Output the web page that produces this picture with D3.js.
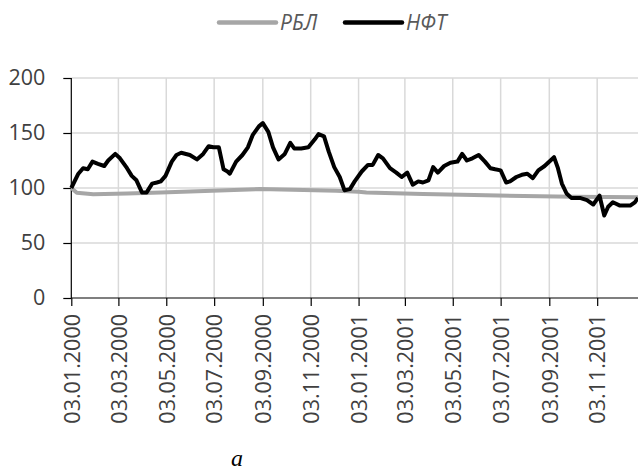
<!DOCTYPE html>
<html>
<head>
<meta charset="utf-8">
<script src="https://cdnjs.cloudflare.com/ajax/libs/d3/7.8.5/d3.min.js"></script>
<style>
	body { margin: 0; background: #fff; }
	svg { display: block; }
</style>
</head>
<body>
<svg id="chart"></svg>
<script>
// DATA

var seriesNames = ["РБЛ", "НФТ"];

var nftDates = [
	"2000-01-03", "2000-01-12", "2000-01-18", "2000-01-24", "2000-01-30", "2000-02-06",
	"2000-02-14", "2000-02-19", "2000-02-28", "2000-03-05", "2000-03-14", "2000-03-20",
	"2000-03-26", "2000-04-02", "2000-04-08", "2000-04-15", "2000-04-21", "2000-04-26",
	"2000-05-02", "2000-05-10", "2000-05-16", "2000-05-22", "2000-06-02", "2000-06-11",
	"2000-06-19", "2000-06-26", "2000-07-02", "2000-07-09", "2000-07-15", "2000-07-20",
	"2000-07-23", "2000-07-31", "2000-08-08", "2000-08-15", "2000-08-21", "2000-08-29",
	"2000-09-03", "2000-09-10", "2000-09-16", "2000-09-23", "2000-10-01", "2000-10-08",
	"2000-10-13", "2000-10-22", "2000-10-31", "2000-11-08", "2000-11-13", "2000-11-20",
	"2000-11-26", "2000-12-03", "2000-12-10", "2000-12-16", "2000-12-23", "2000-12-29",
	"2001-01-07", "2001-01-15", "2001-01-21", "2001-01-28", "2001-02-03", "2001-02-12",
	"2001-02-20", "2001-02-27", "2001-03-06", "2001-03-13", "2001-03-20", "2001-03-26",
	"2001-04-02", "2001-04-08", "2001-04-14", "2001-04-22", "2001-04-30", "2001-05-09",
	"2001-05-15", "2001-05-21", "2001-05-28", "2001-06-05", "2001-06-13", "2001-06-20",
	"2001-06-26", "2001-07-03", "2001-07-10", "2001-07-15", "2001-07-23", "2001-07-30",
	"2001-08-06", "2001-08-13", "2001-08-20", "2001-08-28", "2001-09-09", "2001-09-14",
	"2001-09-19", "2001-09-25", "2001-10-01", "2001-10-12", "2001-10-21", "2001-10-29",
	"2001-11-06", "2001-11-12", "2001-11-17", "2001-11-23", "2001-12-02", "2001-12-15",
	"2001-12-21", "2001-12-25"
];

var nftValues = [
	100, 113, 118, 117, 124, 122,
	120, 125, 131, 127, 118, 111,
	107, 96, 96, 104, 105, 106,
	111, 124, 130, 132, 130, 126,
	131, 138, 137, 137, 117, 115,
	113, 124, 130, 137, 148, 156,
	159, 151, 137, 126, 131, 141,
	136, 136, 137, 144, 149, 147,
	133, 119, 110, 98, 99, 106,
	115, 121, 121, 130, 127, 118,
	114, 110, 114, 103, 106, 105,
	107, 119, 114, 120, 123, 124,
	131, 125, 127, 130, 124, 118,
	117, 116, 105, 106, 110, 112,
	113, 109, 116, 120, 128, 118,
	104, 95, 91, 91, 89, 85,
	93, 75, 83, 87, 84, 84,
	87, 91
];

var rblDates = [
	"2000-01-03", "2000-01-10", "2000-01-31", "2000-03-14", "2000-04-26", "2000-07-19",
	"2000-08-30", "2000-12-06", "2001-01-03", "2001-01-13", "2001-03-26", "2001-05-30",
	"2001-08-01", "2001-10-03", "2001-12-25"
];

var rblValues = [
	100, 95.7, 94.3, 95, 96, 98,
	99, 97.5, 96.5, 96, 94.5, 93.6,
	92.7, 92, 91.5
];

var xTicks = [
	"2000-01-03", "2000-03-03", "2000-05-03", "2000-07-03", "2000-09-03", "2000-11-03",
	"2001-01-03", "2001-03-03", "2001-05-03", "2001-07-03", "2001-09-03", "2001-11-03"
];

var yTicks = [0, 50, 100, 150, 200];

// DIMENSIONS

var width = 638,
	height = 471,
	plotLeft = 71.3,
	plotRight = 638,
	plotTop = 78,
	plotBottom = 298;

var parse = d3.timeParse("%Y-%m-%d");

// SCALES

var xScale = d3.scaleTime()
	.domain([parse("2000-01-03"), parse("2001-12-25")])
	.range([plotLeft, plotRight]);

var yScale = d3.scaleLinear()
	.domain([0, 200])
	.range([plotBottom, plotTop]);

var svg = d3.select("#chart")
	.attr('width', width)
	.attr('height', height);

// grid

svg.append('g').selectAll('line').data(yTicks.slice(1))
	.enter().append('line')
	.attr('x1', plotLeft).attr('x2', plotRight)
	.attr('y1', function(d) { return yScale(d); })
	.attr('y2', function(d) { return yScale(d); })
	.style('stroke', '#d9d9d9')
	.style('stroke-width', 1.5);

svg.append('g').selectAll('line').data(xTicks.slice(1))
	.enter().append('line')
	.attr('x1', function(d) { return xScale(parse(d)); })
	.attr('x2', function(d) { return xScale(parse(d)); })
	.attr('y1', plotTop).attr('y2', plotBottom)
	.style('stroke', '#d9d9d9')
	.style('stroke-width', 1.5);

// axes

var yAxis = d3.axisLeft(yScale)
	.tickValues(yTicks)
	.tickSize(8)
	.tickPadding(18);

var yGuide = svg.append('g')
	.attr('transform', 'translate(' + plotLeft + ',0)')
	.call(yAxis);

var xAxis = d3.axisBottom(xScale)
	.tickValues(xTicks.map(parse))
	.tickSize(8)
	.tickFormat(d3.timeFormat("%d.%m.%Y"));

var xGuide = svg.append('g')
	.attr('transform', 'translate(0,' + plotBottom + ')')
	.call(xAxis);

xGuide.selectAll('text')
	.attr('transform', 'rotate(-90)')
	.attr('x', -16)
	.attr('y', 0)
	.attr('dy', '0.36em')
	.style('text-anchor', 'end');

xGuide.select('.domain').attr('d', 'M' + plotLeft + ',0H' + plotRight);
yGuide.select('.domain').attr('d', 'M0,' + plotTop + 'V' + plotBottom);

svg.selectAll('.tick text')
	.style('font-family', '"Open Sans", sans-serif')
	.style('font-size', '21.5px')
	.style('fill', '#404040');

svg.selectAll('.domain, .tick line')
	.style('stroke', '#000')
	.style('stroke-width', 1.2);

// lines

var line = d3.line()
	.x(function(d) { return xScale(parse(d[0])); })
	.y(function(d) { return yScale(d[1]); });

svg.append('path')
	.datum(d3.zip(rblDates, rblValues))
	.attr('d', line)
	.style('fill', 'none')
	.style('stroke', '#a6a6a6')
	.style('stroke-width', 4)
	.style('stroke-linejoin', 'round');

svg.append('path')
	.datum(d3.zip(nftDates, nftValues))
	.attr('d', line)
	.style('fill', 'none')
	.style('stroke', '#000')
	.style('stroke-width', 4)
	.style('stroke-linejoin', 'round');

// legend

var legend = svg.append('g').selectAll('g').data(seriesNames)
	.enter().append('g')
	.attr('transform', function(d, i) { return 'translate(' + (219 + i * 126) + ',22.5)'; });

legend.append('line')
	.attr('x1', 0).attr('x2', 57)
	.style('stroke', function(d, i) { return i ? '#000' : '#a6a6a6'; })
	.style('stroke-width', 4.5)
	.style('stroke-linecap', 'round');

legend.append('text')
	.attr('x', 61)
	.attr('dy', '0.36em')
	.text(function(d) { return d; })
	.style('font-family', '"Open Sans", sans-serif')
	.style('font-style', 'italic')
	.style('font-size', '21px')
	.style('fill', '#595959');

// caption

svg.append('text')
	.attr('x', 237)
	.attr('y', 466)
	.attr('text-anchor', 'middle')
	.text('а')
	.style('font-family', '"Liberation Serif", serif')
	.style('font-style', 'italic')
	.style('font-size', '24px')
	.style('fill', '#000');
</script>
</body>
</html>
